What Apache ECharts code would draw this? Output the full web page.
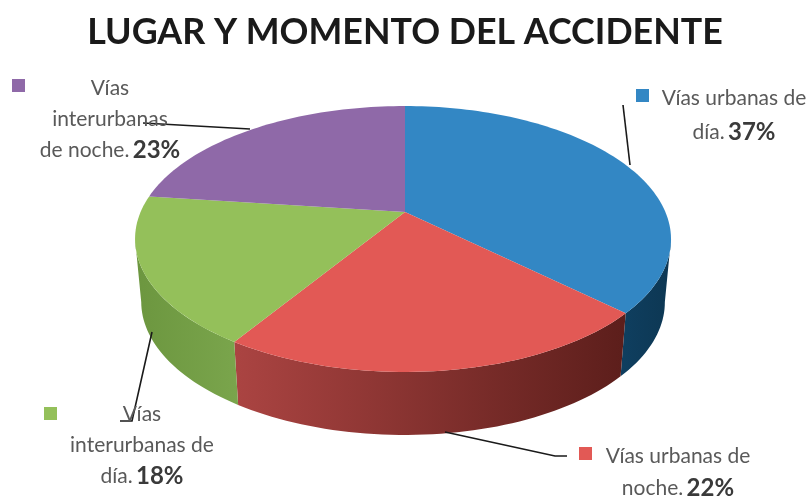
<!DOCTYPE html>
<html>
<head>
<meta charset="utf-8">
<style>html,body{margin:0;padding:0;background:#fff}#c{width:812px;height:498px}</style>
<script src="https://cdn.jsdelivr.net/npm/echarts@6/dist/echarts.min.js"></script>
</head>
<body>
<div id="c"></div>
<script>
// Data
const titleText = 'LUGAR Y MOMENTO DEL ACCIDENTE';
const categoryLines = [
  ['Vías urbanas de', 'día.'],
  ['Vías urbanas de', 'noche.'],
  ['Vías', 'interurbanas de', 'día.'],
  ['Vías', 'interurbanas', 'de noche.']
];
const values = [37, 22, 18, 23];

// Styles
const topColors = ['#3387c4', '#e25955', '#94c05a', '#8f69a8'];
const wallStops = [
  ['#0f3f60', '#0d3753'],
  ['#ab4442', '#5c1e1b'],
  ['#6c963f', '#7aa54c'],
  ['#6c4f80', '#6c4f80']
];

// Layout
const CX = 405, CY = 212, RX = 262.4, RY = 127.5, PERSP = 0.203, DEPTH = 63;
const RIM_SHIFT = -2, BASE_SCALE = 0.977;
const labelAnchors = [[734, 115], [678, 472], [142, 445], [110, 119]];
const labelHeights = [34, 32, 31, 31];
const markers = [[636, 89], [579, 447], [44, 407], [12, 79]];
const leaders = [
  [[623, 105], [630, 165]],
  [[445, 432], [555, 456], [567, 456]],
  [[120, 421], [132, 421], [152, 332]],
  [[143, 123], [250, 129]]
];

// Perspective projection of a point on the pie disc, angle in degrees clockwise from top.
// base = true gives the lower rim of the wall, slightly narrower and moved down.
function project(deg, base) {
  const t = deg * Math.PI / 180, x = Math.sin(t), y = -Math.cos(t);
  const d = 1 - PERSP * y;
  const sx = base ? BASE_SCALE : 1;
  return [CX + RIM_SHIFT * Math.abs(x) + sx * RX * x / d, CY + RY * y / d + (base ? DEPTH : 0)];
}
function arc(a0, a1, base) {
  const n = Math.max(2, Math.ceil(Math.abs(a1 - a0) / 1.5)), pts = [];
  for (let i = 0; i <= n; i++) pts.push(project(a0 + (a1 - a0) * i / n, base));
  return pts;
}
const total = values.reduce((a, b) => a + b, 0);
const wallFrom = 90 + Math.asin(PERSP) * 180 / Math.PI, wallTo = 360 - wallFrom;

function renderItem(params, api) {
  const i = params.dataIndex;
  const before = values.slice(0, i).reduce((a, b) => a + b, 0);
  const a0 = before / total * 360, a1 = (before + api.value(0)) / total * 360;
  const children = [];
  const w0 = Math.max(a0, wallFrom), w1 = Math.min(a1, wallTo);
  if (w1 > w0) {
    const pts = arc(w0, w1, false).concat(arc(w1, w0, true));
    const xs = pts.map(p => p[0]);
    children.push({
      type: 'polygon', z2: 1,
      shape: { points: pts },
      style: {
        fill: new echarts.graphic.LinearGradient(
          Math.min(...xs), 0, Math.max(...xs), 0,
          [{ offset: 0, color: wallStops[i][0] }, { offset: 1, color: wallStops[i][1] }], true)
      }
    });
  }
  children.push({
    type: 'polygon', z2: 2,
    shape: { points: [[CX, CY]].concat(arc(a0, a1, false)) },
    style: { fill: topColors[i] }
  });
  children.push({
    type: 'polyline', z2: 3,
    shape: { points: leaders[i] },
    style: { stroke: '#1a1a1a', lineWidth: 1.6, fill: null }
  });
  children.push({
    type: 'rect', z2: 3,
    shape: { x: markers[i][0], y: markers[i][1], width: 13, height: 13 },
    style: { fill: topColors[i] }
  });
  const lines = categoryLines[i].map(s => '{n|' + s + '}');
  lines[lines.length - 1] += ' {b|' + values[i] + '%}';
  const lh = labelHeights[i];
  children.push({
    type: 'text', z2: 4,
    style: {
      x: labelAnchors[i][0], y: labelAnchors[i][1],
      text: lines.join('\n'),
      align: 'center', verticalAlign: 'middle',
      rich: {
        n: { fontFamily: 'Lato', fontSize: 21, fill: '#595959', lineHeight: lh },
        b: { fontFamily: 'Lato', fontSize: 24, fontWeight: 'bold', fill: '#3a3a3a', lineHeight: lh }
      }
    }
  });
  return { type: 'group', children };
}

const chart = echarts.init(document.getElementById('c'), null, { renderer: 'canvas' });
chart.setOption({
  backgroundColor: '#ffffff',
  animation: false,
  title: {
    text: titleText, left: 400, top: 9, textAlign: 'center',
    textStyle: { fontFamily: 'Lato', fontSize: 35.8, fontWeight: 'bold', color: '#1a1a1a' }
  },
  tooltip: { show: false },
  series: [{
    type: 'custom',
    coordinateSystem: 'none',
    renderItem,
    silent: true,
    data: values.map(v => [v])
  }]
});
</script>
</body>
</html>
